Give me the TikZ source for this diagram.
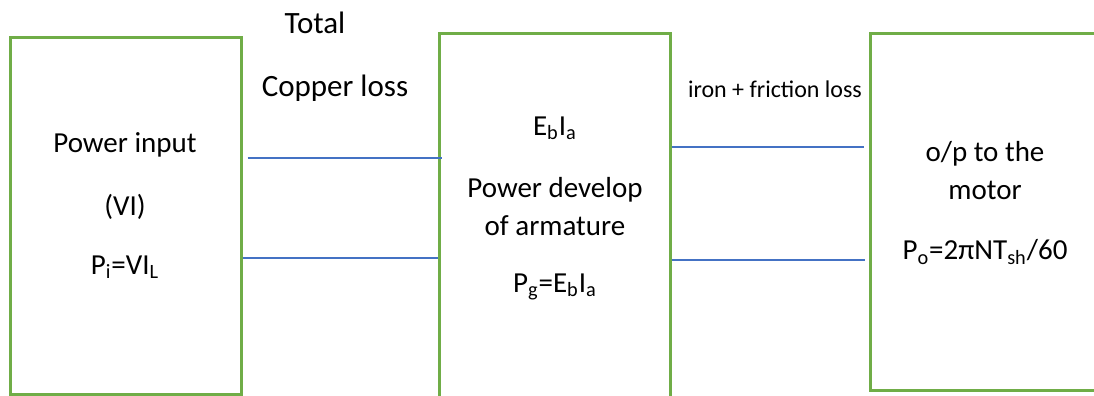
\documentclass[tikz,border=0pt]{standalone}
\usepackage{fontspec}
\setmainfont{Carlito}
\definecolor{boxgreen}{RGB}{112, 173, 71}
\definecolor{lineblue}{RGB}{68, 114, 196}

\begin{document}
\begin{tikzpicture}[x=0.5pt, y=-0.5pt,
  block/.style={rectangle, draw=boxgreen, line width=1.5pt, inner sep=0pt,
                minimum width=115.5pt, minimum height=178.5pt},
  txt/.style={font=\fontsize{14.5}{19}\selectfont, align=center, inner sep=0pt},
  losstxt/.style={font=\fontsize{15.5}{19}\selectfont, inner sep=0pt},
  small/.style={font=\fontsize{12}{14}\selectfont, inner sep=0pt},
  link/.style={draw=lineblue, line width=0.6pt}
]
\clip (0,0) rectangle (1094,396);

\node[block] (pin) at (125.5,215.5) {};
\node[block, minimum height=193.5pt] (dev) at (554.5,226.5) {};
\node[block, minimum width=125pt] (out) at (995,211.5) {};

\node[txt] (pin1) at (125,145) {Power input};
\node[txt] (pin2) at (125,207) {(VI)};
\node[txt] (pin3) at (125,267) {P\textsubscript{i}=VI\textsubscript{L}};

\node[txt] (dev1) at (555,128) {E\textsubscript{b}I\textsubscript{a}};
\node[txt] (dev2) at (555,207) {Power develop\\of armature};
\node[txt] (dev3) at (555,287) {P\textsubscript{g}=E\textsubscript{b}I\textsubscript{a}};

\node[txt] (out1) at (985,171) {o/p to the\\motor};
\node[txt] (out2) at (985,252) {P\textsubscript{o}=2πNT\textsubscript{sh}/60};

\node[losstxt] (cu1) at (315,23) {Total};
\node[losstxt] (cu2) at (335,88) {Copper loss};
\node[small] (fe) at (775,89) {iron + friction loss};

\draw[link] ([xshift=2.5pt]pin.east |- 0,158) -- ([xshift=2pt]dev.west |- 0,158);
\draw[link] (pin.east |- 0,258) -- (dev.west |- 0,258);
\draw[link] (dev.east |- 0,147) -- ([xshift=-2.5pt]out.west |- 0,147);
\draw[link] (dev.east |- 0,260) -- ([xshift=-2pt]out.west |- 0,260);

\end{tikzpicture}
\end{document}
